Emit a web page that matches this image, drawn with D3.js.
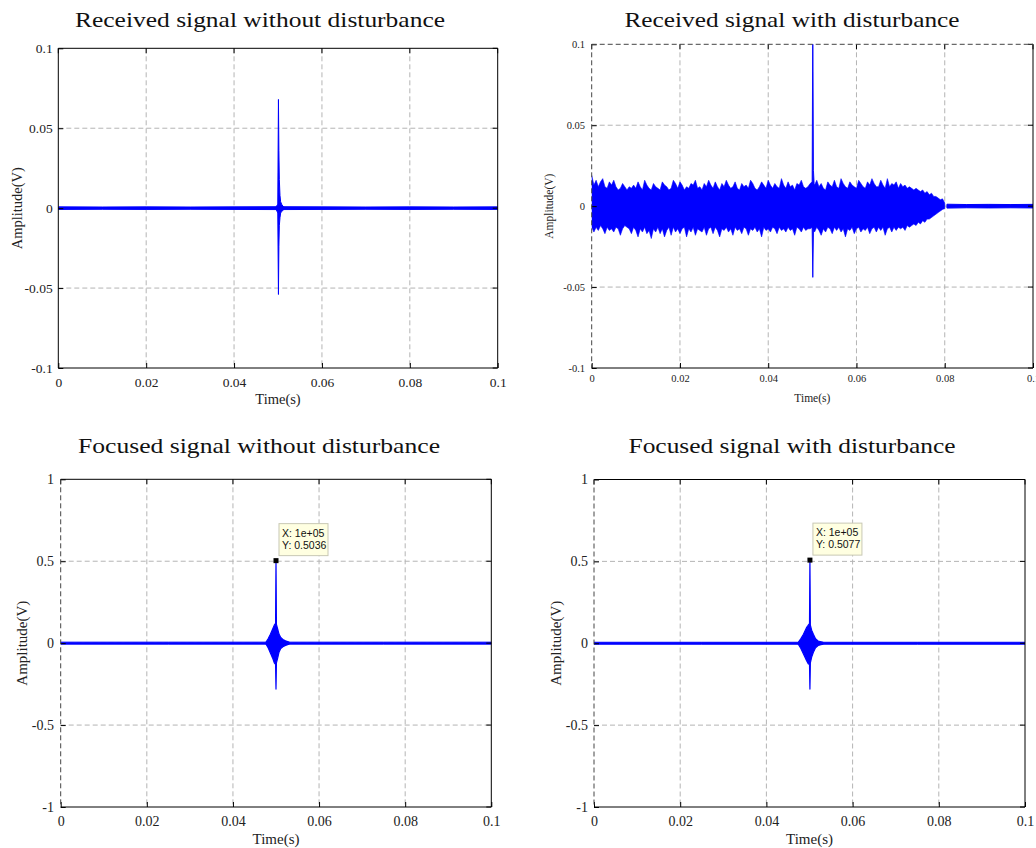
<!DOCTYPE html>
<html><head><meta charset="utf-8">
<script src="https://cdn.jsdelivr.net/npm/d3@7"></script>
<style>body{margin:0;background:#fff}svg{display:block}</style>
</head><body>
<svg id="c" width="1036" height="848"></svg>
<script>
// ---------------- DATA ----------------
const titles = ["Received signal without disturbance", "Received signal with disturbance",
                "Focused signal without disturbance", "Focused signal with disturbance"];
const xLabel = "Time(s)";
const yLabel = "Amplitude(V)";
const timeTicks = [0, 0.02, 0.04, 0.06, 0.08, 0.1];
const recvTicks = [-0.1, -0.05, 0, 0.05, 0.1];
const focusTicks = [-1, -0.5, 0, 0.5, 1];

// Panel 1: received, no disturbance (envelope of the trace)
const p1BaseT  = [0, 0.01, 0.02, 0.03, 0.04, 0.05, 0.06, 0.07, 0.08, 0.09, 0.1];
const p1BaseHi = [0.0008, 0.0007, 0.0008, 0.0007, 0.0008, 0.0009, 0.0008, 0.0007, 0.0008, 0.0007, 0.0008];
const p1BaseLo = [-0.0008, -0.0007, -0.0008, -0.0007, -0.0008, -0.0009, -0.0008, -0.0007, -0.0008, -0.0007, -0.0008];
const p1SpikeT  = [0.0496, 0.04995, 0.0501, 0.0502, 0.0503, 0.05045, 0.0506, 0.0509, 0.0513];
const p1SpikeHi = [0.0009, 0.0025, 0.068, 0.036, 0.018, 0.008, 0.004, 0.002, 0.0009];
const p1SpikeLo = [-0.0009, -0.003, -0.054, -0.024, -0.011, -0.006, -0.003, -0.002, -0.0009];

// Panel 2: received, with disturbance (noise envelope sampled every 0.5 ms, 0..0.08 s)
const p2Step = 0.0005;
const p2NoiseHi = [
 0.019,0.013,0.016,0.012,0.015,0.017,0.012,0.011,0.015,0.013,
 0.016,0.012,0.010,0.011,0.014,0.012,0.010,0.012,0.011,0.013,
 0.011,0.015,0.012,0.010,0.016,0.013,0.011,0.010,0.014,0.012,
 0.011,0.010,0.015,0.013,0.012,0.010,0.011,0.016,0.014,0.011,
 0.015,0.013,0.010,0.012,0.011,0.014,0.013,0.016,0.011,0.012,
 0.010,0.014,0.012,0.016,0.013,0.011,0.015,0.012,0.010,0.014,
 0.012,0.016,0.013,0.011,0.012,0.015,0.011,0.010,0.014,0.012,
 0.013,0.011,0.016,0.014,0.011,0.010,0.012,0.015,0.013,0.011,
 0.016,0.013,0.011,0.014,0.012,0.011,0.017,0.013,0.011,0.015,
 0.012,0.013,0.010,0.014,0.013,0.016,0.012,0.011,0.012,0.014,
 0.015,0.013,0.016,0.012,0.014,0.011,0.010,0.015,0.013,0.012,
 0.016,0.012,0.011,0.017,0.014,0.012,0.011,0.015,0.013,0.012,
 0.011,0.016,0.014,0.012,0.011,0.015,0.013,0.017,0.014,0.012,
 0.012,0.016,0.013,0.011,0.017,0.012,0.014,0.013,0.015,0.011,
 0.014,0.012,0.013,0.011,0.012,0.011,0.010,0.011,0.010,0.009,
 0.010,0.008,0.009,0.007,0.008,0.006,0.006,0.005,0.004,0.0045,
 0.002];
const p2NoiseLo = [
 -0.013,-0.016,-0.013,-0.015,-0.012,-0.014,-0.017,-0.013,-0.015,-0.014,
 -0.016,-0.013,-0.014,-0.018,-0.014,-0.012,-0.013,-0.014,-0.017,-0.013,
 -0.015,-0.019,-0.014,-0.016,-0.013,-0.017,-0.015,-0.020,-0.014,-0.016,
 -0.013,-0.017,-0.014,-0.019,-0.015,-0.013,-0.018,-0.013,-0.016,-0.014,
 -0.017,-0.014,-0.013,-0.019,-0.014,-0.016,-0.013,-0.018,-0.014,-0.015,
 -0.016,-0.013,-0.018,-0.014,-0.013,-0.017,-0.013,-0.015,-0.019,-0.014,
 -0.015,-0.013,-0.016,-0.014,-0.018,-0.013,-0.015,-0.014,-0.017,-0.013,
 -0.014,-0.018,-0.014,-0.015,-0.013,-0.016,-0.014,-0.019,-0.013,-0.015,
 -0.014,-0.016,-0.013,-0.014,-0.017,-0.013,-0.015,-0.014,-0.016,-0.013,
 -0.015,-0.014,-0.018,-0.013,-0.014,-0.016,-0.013,-0.015,-0.014,-0.014,
 -0.013,-0.016,-0.013,-0.015,-0.018,-0.014,-0.016,-0.013,-0.014,-0.017,
 -0.013,-0.015,-0.013,-0.016,-0.014,-0.019,-0.014,-0.015,-0.013,-0.017,
 -0.014,-0.013,-0.016,-0.014,-0.015,-0.013,-0.017,-0.014,-0.013,-0.016,
 -0.013,-0.015,-0.013,-0.018,-0.014,-0.013,-0.016,-0.013,-0.015,-0.013,
 -0.014,-0.013,-0.015,-0.012,-0.013,-0.012,-0.011,-0.012,-0.010,-0.011,
 -0.009,-0.010,-0.008,-0.008,-0.007,-0.006,-0.005,-0.004,-0.003,-0.002,
 -0.0015];
const p2TailT  = [0.0805, 0.085, 0.09, 0.095, 0.1];
const p2TailHi = [0.0012, 0.0010, 0.0011, 0.0010, 0.0011];
const p2TailLo = [-0.0012, -0.0010, -0.0011, -0.0010, -0.0011];
const p2SpikeT  = [0.04995, 0.0501, 0.05025, 0.0504];
const p2SpikeHi = [0.013, 0.12, 0.022, 0.014];
const p2SpikeLo = [-0.013, -0.044, -0.016, -0.013];

// Panel 3: focused, no disturbance
const p3BaseT  = [0, 0.025, 0.05, 0.075, 0.1];
const p3BaseHi = [0.006, 0.006, 0.006, 0.006, 0.006];
const p3BaseLo = [-0.006, -0.006, -0.006, -0.006, -0.006];
const p3BurstT  = [0.0477, 0.0482, 0.0487, 0.0492, 0.0496, 0.0499, 0.0500, 0.0501, 0.0504, 0.0507, 0.0511, 0.0516, 0.0522, 0.0530];
const p3BurstHi = [0.006, 0.028, 0.055, 0.085, 0.11, 0.12, 0.5036, 0.115, 0.085, 0.055, 0.035, 0.022, 0.014, 0.006];
const p3BurstLo = [-0.006, -0.03, -0.06, -0.09, -0.12, -0.13, -0.28, -0.12, -0.09, -0.055, -0.033, -0.022, -0.014, -0.006];

// Panel 4: focused, with disturbance
const p4BaseT  = [0, 0.025, 0.05, 0.075, 0.1];
const p4BaseHi = [0.006, 0.006, 0.006, 0.006, 0.006];
const p4BaseLo = [-0.006, -0.006, -0.006, -0.006, -0.006];
const p4BurstT  = [0.0474, 0.0480, 0.0486, 0.0493, 0.0497, 0.0500, 0.0501, 0.0502, 0.0505, 0.0509, 0.0514, 0.0520, 0.0531];
const p4BurstHi = [0.006, 0.028, 0.055, 0.095, 0.11, 0.12, 0.5077, 0.11, 0.08, 0.055, 0.028, 0.014, 0.006];
const p4BurstLo = [-0.006, -0.032, -0.065, -0.105, -0.125, -0.13, -0.28, -0.12, -0.085, -0.055, -0.028, -0.014, -0.006];

// Data tips
const tipT = [0.0500, 0.0501];
const tipXText = ["X: 1e+05", "X: 1e+05"];
const tipYVal = [0.5036, 0.5077];

// ---------------- BUILD ----------------
const zip = (t, hi, lo) => t.map((v, i) => ({t: v, hi: hi[i], lo: lo[i]}));
const p2NoiseT = p2NoiseHi.map((_, i) => i * p2Step);

const panels = [
  {left: 58.3, right: 497.7, top: 48.3, bottom: 368, yDomain: [-0.1, 0.1], yTicks: recvTicks,
   tickFs: 13.5, labelFs: 14.5, title: titles[0], titleX: 260, titleY: 27, titleLen: 370,
   ylabelX: 17, xlabelY: 404, xPad: 9, yPad: 5.6, dashLeft: false, dashTop: false,
   series: [zip(p1BaseT, p1BaseHi, p1BaseLo), zip(p1SpikeT, p1SpikeHi, p1SpikeLo)], sw: [1, 1]},
  {left: 591.7, right: 1033, top: 44.3, bottom: 368, yDomain: [-0.1, 0.1], yTicks: recvTicks,
   tickFs: 10.5, labelFs: 11.5, title: titles[1], titleX: 792, titleY: 27, titleLen: 335,
   ylabelX: 549, xlabelY: 402, xPad: 7, yPad: 6.7, dashLeft: true, dashTop: true,
   series: [zip(p2NoiseT, p2NoiseHi, p2NoiseLo), zip(p2TailT, p2TailHi, p2TailLo), zip(p2SpikeT, p2SpikeHi, p2SpikeLo)], sw: [0.6, 1, 0.9]},
  {left: 60.7, right: 491.3, top: 479.3, bottom: 807, yDomain: [-1, 1], yTicks: focusTicks,
   tickFs: 14, labelFs: 15, title: titles[2], titleX: 259, titleY: 453, titleLen: 362,
   ylabelX: 22, xlabelY: 844, xPad: 9, yPad: 6.7, dashLeft: true, dashTop: false,
   series: [zip(p3BaseT, p3BaseHi, p3BaseLo), zip(p3BurstT, p3BurstHi, p3BurstLo)], sw: [1, 1.2], tip: 0},
  {left: 594, right: 1025, top: 479.5, bottom: 807, yDomain: [-1, 1], yTicks: focusTicks,
   tickFs: 14, labelFs: 15, title: titles[3], titleX: 792, titleY: 453, titleLen: 327,
   ylabelX: 556, xlabelY: 844, xPad: 9, yPad: 6, dashLeft: true, dashTop: false,
   series: [zip(p4BaseT, p4BaseHi, p4BaseLo), zip(p4BurstT, p4BurstHi, p4BurstLo)], sw: [1, 1.2], tip: 1}
];

const svg = d3.select("#c");
const serif = "'Liberation Serif','Times New Roman',serif";
const BLUE = "#0000ff";
const fmt = d => String(d);

panels.forEach((p, pi) => {
  const x = d3.scaleLinear().domain([0, 0.1]).range([p.left, p.right]);
  const y = d3.scaleLinear().domain(p.yDomain).range([p.bottom, p.top]);
  const g = svg.append("g");
  const w = p.right - p.left, h = p.bottom - p.top;

  // grid
  const grid = g.append("g").attr("stroke", "#b4b4b4").attr("stroke-width", 1).attr("stroke-dasharray", "5,3").attr("fill", "none");
  timeTicks.slice(1, -1).forEach(t => grid.append("line").attr("x1", x(t)).attr("x2", x(t)).attr("y1", p.top).attr("y2", p.bottom));
  p.yTicks.slice(1, -1).forEach(v => grid.append("line").attr("x1", p.left).attr("x2", p.right).attr("y1", y(v)).attr("y2", y(v)));

  // data
  const cid = "clip" + pi;
  svg.append("clipPath").attr("id", cid).append("rect").attr("x", p.left).attr("y", p.top).attr("width", w).attr("height", h);
  const area = d3.area().x(d => x(d.t)).y0(d => y(d.lo)).y1(d => y(d.hi));
  const dg = g.append("g").attr("clip-path", `url(#${cid})`);
  p.series.forEach((s, si) => {
    dg.append("path").datum(s).attr("d", area).attr("fill", BLUE).attr("stroke", BLUE)
      .attr("stroke-width", p.sw[si]).attr("stroke-linejoin", "round");
  });

  // axes
  const xa = d3.axisBottom(x).tickValues(timeTicks).tickFormat(fmt).tickSize(-5).tickPadding(p.xPad);
  const ya = d3.axisLeft(y).tickValues(p.yTicks).tickFormat(fmt).tickSize(-5).tickPadding(p.yPad);
  const gx = g.append("g").attr("transform", `translate(0,${p.bottom})`).call(xa);
  const gy = g.append("g").attr("transform", `translate(${p.left},0)`).call(ya);
  [gx, gy].forEach(a => {
    a.select(".domain").remove();
    a.selectAll("line").attr("stroke", "#000");
    a.selectAll("text").attr("font-family", serif).attr("font-size", p.tickFs).attr("fill", "#222");
  });
  // top / right ticks
  const tg = g.append("g").attr("stroke", "#000");
  timeTicks.forEach(t => tg.append("line").attr("x1", x(t)).attr("x2", x(t)).attr("y1", p.top).attr("y2", p.top + 5));
  p.yTicks.forEach(v => tg.append("line").attr("x1", p.right).attr("x2", p.right - 5).attr("y1", y(v)).attr("y2", y(v)));

  // box
  const box = g.append("g").attr("fill", "none").attr("stroke-width", 1);
  box.append("line").attr("x1", p.left).attr("x2", p.right).attr("y1", p.bottom).attr("y2", p.bottom).attr("stroke", "#000");
  box.append("line").attr("x1", p.right).attr("x2", p.right).attr("y1", p.top).attr("y2", p.bottom).attr("stroke", "#000");
  box.append("line").attr("x1", p.left).attr("x2", p.right).attr("y1", p.top).attr("y2", p.top)
     .attr("stroke", p.dashTop ? "#444" : "#000").attr("stroke-dasharray", p.dashTop ? "5,3" : null);
  box.append("line").attr("x1", p.left).attr("x2", p.left).attr("y1", p.top).attr("y2", p.bottom)
     .attr("stroke", p.dashLeft ? "#444" : "#000").attr("stroke-dasharray", p.dashLeft ? "5,3" : null);

  // labels
  g.append("text").attr("x", (p.left + p.right) / 2).attr("y", p.xlabelY).attr("text-anchor", "middle")
    .attr("font-family", serif).attr("font-size", p.labelFs).attr("fill", "#222").text(xLabel);
  g.append("text").attr("transform", `translate(${p.ylabelX},${(p.top + p.bottom) / 2}) rotate(-90)`)
    .attr("dy", "0.35em").attr("text-anchor", "middle")
    .attr("font-family", serif).attr("font-size", p.labelFs).attr("fill", "#222").text(yLabel);
  g.append("text").attr("x", p.titleX).attr("y", p.titleY).attr("text-anchor", "middle")
    .attr("font-family", serif).attr("font-size", 22).attr("fill", "#111")
    .attr("textLength", p.titleLen).attr("lengthAdjust", "spacingAndGlyphs").text(p.title);

  // data tip
  if (p.tip !== undefined) {
    const k = p.tip;
    const mx = x(tipT[k]), my = y(tipYVal[k]);
    const tg2 = g.append("g");
    tg2.append("rect").attr("x", mx + 3).attr("y", my - 37).attr("width", 49).attr("height", 32)
      .attr("fill", "#ffffe1").attr("stroke", "#c8c8b4").attr("stroke-width", 1);
    tg2.append("text").attr("x", mx + 6).attr("y", my - 24).attr("font-family", "'Liberation Sans',Arial,sans-serif")
      .attr("font-size", 10.5).attr("fill", "#111").text(tipXText[k]);
    tg2.append("text").attr("x", mx + 6).attr("y", my - 12).attr("font-family", "'Liberation Sans',Arial,sans-serif")
      .attr("font-size", 10.5).attr("fill", "#111").text("Y: " + tipYVal[k].toFixed(4));
    tg2.append("rect").attr("x", mx - 2.5).attr("y", my - 2.5).attr("width", 5).attr("height", 5).attr("fill", "#000");
  }
});
</script></body></html>
